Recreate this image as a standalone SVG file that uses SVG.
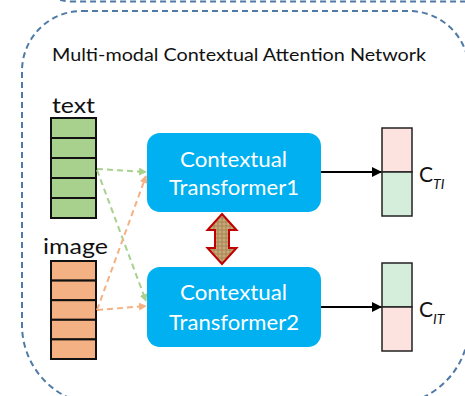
<svg xmlns="http://www.w3.org/2000/svg" width="465" height="396" viewBox="0 0 465 396">
<style>
.frame{fill:none;stroke:#4f7aa6;stroke-width:2;stroke-dasharray:6 4}
.lbl{font-family:Lato,"Open Sans","Liberation Sans",sans-serif;fill:#111}
.box{fill:#00b0f0}
.bt{font-family:Lato,"Open Sans","Liberation Sans",sans-serif;fill:#fff;font-size:21px}
.cell{stroke:#111;stroke-width:2}
.ocell{stroke:#222;stroke-width:1.5}
.g{fill:#a9d18e}.o{fill:#f4b183}.pk{fill:#fde3df}.lg{fill:#d5eedc}
.dg{fill:none;stroke:#a9d18e;stroke-width:2;stroke-dasharray:6 4}
.do{fill:none;stroke:#f4b183;stroke-width:2;stroke-dasharray:6 4}
.blk{fill:none;stroke:#000;stroke-width:2}
</style>
<defs>
<marker id="ag" markerWidth="8" markerHeight="8" refX="7" refY="4" orient="auto" markerUnits="userSpaceOnUse"><path d="M0,0 L8,4 L0,8 Z" fill="#a9d18e"/></marker>
<marker id="ao" markerWidth="8" markerHeight="8" refX="7" refY="4" orient="auto" markerUnits="userSpaceOnUse"><path d="M0,0 L8,4 L0,8 Z" fill="#f4b183"/></marker>
<marker id="ab" markerWidth="10" markerHeight="10" refX="9" refY="5" orient="auto" markerUnits="userSpaceOnUse"><path d="M0,0 L10,5 L0,10 Z" fill="#000"/></marker>
<pattern id="burlap" width="4" height="4" patternUnits="userSpaceOnUse">
<rect width="4" height="4" fill="#c9a878"/>
<path d="M0,2 H4 M2,0 V4" stroke="#9c7a4c" stroke-width="0.8"/>
</pattern>
</defs>
<path class="frame" d="M52,-6 Q58,1.5 72,1.5 L470,1.5"/>
<path class="frame" d="M82,11 H409 A60,60 0 0 1 469,71 V325 A80,80 0 0 1 389,405 H102 A80,80 0 0 1 22,325 V71 A60,60 0 0 1 82,11 Z"/>
<text class="lbl" x="52" y="61" font-size="17" textLength="374" lengthAdjust="spacingAndGlyphs">Multi-modal Contextual Attention Network</text>

<g id="text-stack">
<text class="lbl" x="52" y="113" font-size="21" textLength="43" lengthAdjust="spacingAndGlyphs">text</text>
<rect class="cell g" x="51" y="118" width="45" height="20"/>
<rect class="cell g" x="51" y="138" width="45" height="20"/>
<rect class="cell g" x="51" y="158" width="45" height="20"/>
<rect class="cell g" x="51" y="178" width="45" height="20"/>
<rect class="cell g" x="51" y="198" width="45" height="20"/>
</g>
<g id="image-stack">
<text class="lbl" x="43" y="254" font-size="21" textLength="65" lengthAdjust="spacingAndGlyphs">image</text>
<rect class="cell o" x="51" y="261" width="45" height="19.6"/>
<rect class="cell o" x="51" y="280.6" width="45" height="19.6"/>
<rect class="cell o" x="51" y="300.2" width="45" height="19.6"/>
<rect class="cell o" x="51" y="319.8" width="45" height="19.6"/>
<rect class="cell o" x="51" y="339.4" width="45" height="19.6"/>
</g>

<g id="ct1">
<rect class="box" x="147" y="133" width="174" height="79" rx="13"/>
<text class="bt" x="180" y="167" textLength="107" lengthAdjust="spacingAndGlyphs">Contextual</text>
<text class="bt" x="169" y="195" textLength="130" lengthAdjust="spacingAndGlyphs">Transformer1</text>
</g>
<g id="ct2">
<rect class="box" x="147" y="267" width="174" height="80" rx="13"/>
<text class="bt" x="180" y="300" textLength="107" lengthAdjust="spacingAndGlyphs">Contextual</text>
<text class="bt" x="169" y="330" textLength="130" lengthAdjust="spacingAndGlyphs">Transformer2</text>
</g>

<g id="c-ti">
<rect class="ocell pk" x="382" y="128" width="30" height="44"/>
<rect class="ocell lg" x="382" y="172" width="30" height="44"/>
<text class="lbl" x="419" y="182" font-size="21">C<tspan font-size="14" font-style="italic" dy="7">TI</tspan></text>
</g>
<g id="c-it">
<rect class="ocell lg" x="382" y="263" width="30" height="44"/>
<rect class="ocell pk" x="382" y="307" width="30" height="44"/>
<text class="lbl" x="419" y="317" font-size="21">C<tspan font-size="14" font-style="italic" dy="7">IT</tspan></text>
</g>

<g id="connectors">
<path class="dg" d="M97,169 L146,172" marker-end="url(#ag)"/>
<path class="dg" d="M97,170 L146,301" marker-end="url(#ag)"/>
<path class="do" d="M97,310 L146,306" marker-end="url(#ao)"/>
<path class="do" d="M97,310 L146,176" marker-end="url(#ao)"/>
<path class="blk" d="M321,172 L381,172" marker-end="url(#ab)"/>
<path class="blk" d="M321,307 L381,307" marker-end="url(#ab)"/>
<path d="M222,214 L236.5,230 L229,230 L229,248 L236.5,248 L222,264 L207.5,248 L215,248 L215,230 L207.5,230 Z" fill="url(#burlap)" stroke="#c00000" stroke-width="2" stroke-linejoin="miter"/>
</g>
</svg>
